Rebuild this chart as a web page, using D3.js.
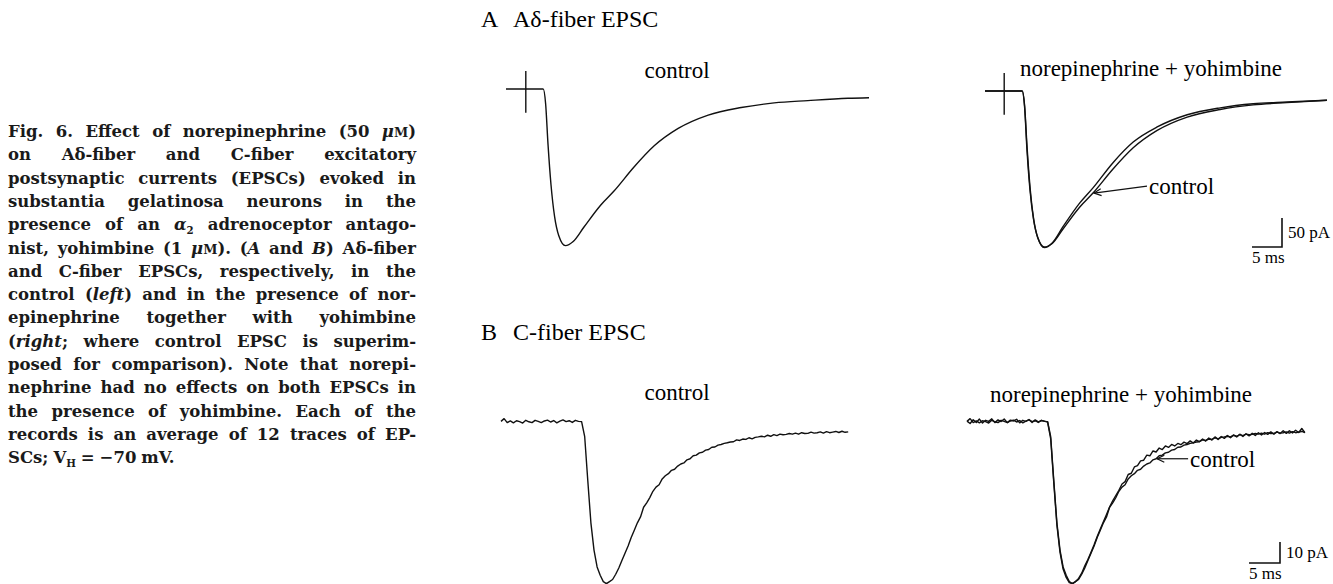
<!DOCTYPE html>
<html>
<head>
<meta charset="utf-8">
<script src="https://cdn.jsdelivr.net/npm/d3@7"></script>
<style>
  body { margin: 0; background: #fff; }
  svg { display: block; }
</style>
</head>
<body>
<script>
'use strict';

// ---- recorded traces: time in ms, current in pA (baseline = 0, inward = negative) ----

var tA = [0, 1, 2, 3, 4, 5, 6.2, 6.6, 7.0, 7.5, 8.1, 8.8, 9.9, 11.2, 13.0, 15.8, 18.0, 21.3, 24.7, 28.7, 33.7, 39.2, 44.7, 50.3, 57.0, 60.5];
var ctrlA = [0, 0, 0, 0, 0, 0, 0, -25, -95, -165, -220, -253, -270, -263, -238, -200, -176, -135, -98, -68, -45, -32, -24, -20, -16, -15];
var neA = [0, 0, 0, 0, 0, 0, 0, -28, -102, -171, -222, -253, -269, -262, -234, -193, -167, -124, -88, -62, -41, -29, -22, -19, -16, -15];

// C fiber EPSC, one sample every 0.5 ms
var dtB = 0.5;
var ctrlB = [
  0.3, 1.6, -0.3, 0.5, -0.4, 0.6, 0.2, -0.5, 0.8, 0.1, -0.3, 0.8, 0.3, -0.3, 0.5, 0.9, 0.0, 0.7, -0.4, 0.4, 1.0, 0.2, 0.6, -0.2, 0.8, 0.3,
  0.2, -7, -28, -48, -61, -69, -73, -76, -77, -76, -75, -72.5, -69.5, -66, -62.5, -59, -55, -51.5, -48, -45.2, -40.6, -38.5, -36, -33,
  -31, -29.9, -27.1, -25.6, -24.6, -23, -22.5, -21, -20, -19.5, -18, -17.5, -16.1, -15.8, -14.7, -14.4, -13.4, -13.1, -12.0, -11.9,
  -11.0, -10.7, -10.2, -9.9, -9.5, -9.4, -8.5, -8.8, -8.1, -8.3, -7.5, -8.0, -7.3, -7.1, -6.8, -7.1, -6.3, -6.8, -6.0, -6.5,
  -5.8, -6.1, -5.9, -5.5, -5.8, -5.3, -5.8, -5.1, -5.5, -5.4, -4.8, -5.3, -5.1, -4.7, -5.3, -4.6, -5.1, -4.8, -4.5, -5.0,
  -4.4, -4.9, -4.7
];
var neB = [
  0.4, -0.7, 1.1, -0.2, 1.4, -0.5, 0.8, 0.3, 1.5, -0.3, 1.0, 0.2, 1.4, -0.3, 0.9, 0.5, 1.3, -0.4, 0.8, 0.3, 1.2, -0.2, 1.0, 0.1, 0.7, 0.4,
  0.0, -8, -29, -49, -62, -70, -74, -76.5, -77, -76, -74.5, -72, -68.5, -65.5, -62, -58.5, -54.5, -51, -47.5, -44, -40.5, -37.5, -35, -32.5,
  -29.5, -28.4, -25, -24.4, -21.4, -20.8, -18.5, -18.2, -15.8, -16.1, -13.8, -14.3, -12.4, -13.1, -11.4, -12.1, -10.7, -11.4, -10.2, -10.8,
  -9.6, -10.3, -9.0, -10.0, -8.6, -9.3, -8.1, -9.1, -7.6, -8.6, -7.1, -8.3, -6.9, -7.8, -6.4, -7.5, -6.2, -7.1, -5.8, -6.9,
  -5.6, -6.6, -5.4, -6.4, -5.1, -6.2, -5.0, -5.9, -4.7, -5.8, -4.6, -5.5, -4.2, -5.4, -4.2, -5.2, -3.9, -5.0, -3.1, -5.1
];

// stimulus artifact (A traces): time in each panel, and its top / bottom in pA
var artifactT = [3.3, 3.2];
var artifactPA = [31, -41];

// calibration bars [ms, pA]
var scaleBarA = [5, 50];
var scaleBarB = [5, 10];

var panelTitles = [['A', 'A\u03b4-fiber EPSC'], ['B', 'C-fiber EPSC']];
var traceLabels = ['control', 'norepinephrine + yohimbine'];

// caption, line by line as printed; a word is a string or a list of [text, style] pieces
var captionLines = [
  ['Fig.', '6.', 'Effect', 'of', 'norepinephrine', '(50', [['\u03bc', 'i'], ['M', 'sc'], [')', '']]],
  ['on', 'A\u03b4-fiber', 'and', 'C-fiber', 'excitatory'],
  ['postsynaptic', 'currents', '(EPSCs)', 'evoked', 'in'],
  ['substantia', 'gelatinosa', 'neurons', 'in', 'the'],
  ['presence', 'of', 'an', [['\u03b1', 'i'], ['2', 'sub']], 'adrenoceptor', 'antago-'],
  ['nist,', 'yohimbine', '(1', [['\u03bc', 'i'], ['M', 'sc'], [').', '']], [['(', ''], ['A', 'i']], 'and', [['B', 'i'], [')', '']], 'A\u03b4-fiber'],
  ['and', 'C-fiber', 'EPSCs,', 'respectively,', 'in', 'the'],
  ['control', [['(', ''], ['left', 'i'], [')', '']], 'and', 'in', 'the', 'presence', 'of', 'nor-'],
  ['epinephrine', 'together', 'with', 'yohimbine'],
  [[['(', ''], ['right', 'i'], [';', '']], 'where', 'control', 'EPSC', 'is', 'superim-'],
  ['posed', 'for', 'comparison).', 'Note', 'that', 'norepi-'],
  ['nephrine', 'had', 'no', 'effects', 'on', 'both', 'EPSCs', 'in'],
  ['the', 'presence', 'of', 'yohimbine.', 'Each', 'of', 'the'],
  ['records', 'is', 'an', 'average', 'of', '12', 'traces', 'of', 'EP-'],
  ['SCs;', [['V', ''], ['H', 'sub']], '=', '\u221270', 'mV.']
];

// ---- layout ----
var W = 1333, H = 584;
var serif = 'Liberation Serif, Times New Roman, serif';

var svg = d3.select('body').append('svg')
  .attr('width', W)
  .attr('height', H)
  .style('background', '#fff');

// build [t, pA] pairs
var pairsA = function(vals) {
  return vals.map(function(v, i) { return [tA[i], v]; });
};
var pairsB = function(vals) {
  return vals.map(function(v, i) { return [i * dtB, v]; });
};

// each panel: origin of trace (x at t=0, y at 0 pA), pixels per ms / pA, traces
var panels = [
  { x0: 506, y0: 89, pxMs: 6, pxPA: 0.58, tMax: 60.5, curve: d3.curveMonotoneX,
    traces: [pairsA(ctrlA)], artifact: artifactT[0],
    label: traceLabels[0], labelX: 677, labelY: 78, anchor: 'middle' },
  { x0: 985, y0: 91, pxMs: 6, pxPA: 0.58, tMax: 57, curve: d3.curveMonotoneX,
    traces: [pairsA(ctrlA), pairsA(neA)], artifact: artifactT[1],
    label: traceLabels[1], labelX: 1020, labelY: 76, anchor: 'start',
    arrowIdx: 16, bar: scaleBarA, barX: 1282, barY: 247 },
  { x0: 501, y0: 422, pxMs: 6.2, pxPA: 2.1, tMax: 56, curve: d3.curveLinear,
    traces: [pairsB(ctrlB)],
    label: traceLabels[0], labelX: 677, labelY: 400, anchor: 'middle' },
  { x0: 967, y0: 422, pxMs: 6.2, pxPA: 2.1, tMax: 54.5, curve: d3.curveLinear,
    traces: [pairsB(ctrlB), pairsB(neB)],
    label: traceLabels[1], labelX: 990, labelY: 402, anchor: 'start',
    arrowIdx: 61, bar: scaleBarB, barX: 1280, barY: 563 }
];

// panel titles
panelTitles.forEach(function(pt, i) {
  var y = i === 0 ? 27 : 340;
  svg.append('text').attr('x', 481).attr('y', y)
    .attr('font-family', serif).attr('font-size', 24).text(pt[0]);
  svg.append('text').attr('x', 513).attr('y', y)
    .attr('font-family', serif).attr('font-size', 24).text(pt[1]);
});

panels.forEach(function(p) {
  var x = d3.scaleLinear().domain([0, p.tMax]).range([p.x0, p.x0 + p.tMax * p.pxMs]);
  var y = d3.scaleLinear().domain([0, -100]).range([p.y0, p.y0 + 100 * p.pxPA]);
  var g = svg.append('g');

  var line = d3.line()
    .x(function(d) { return x(d[0]); })
    .y(function(d) { return y(d[1]); })
    .curve(p.curve);

  p.traces.forEach(function(tr) {
    g.append('path')
      .datum(tr.filter(function(d) { return d[0] <= p.tMax; }))
      .attr('d', line)
      .attr('fill', 'none')
      .attr('stroke', '#111')
      .attr('stroke-width', 1.4)
      .attr('stroke-linejoin', 'round');
  });

  // stimulus artifact
  if (p.artifact !== undefined) {
    g.append('line')
      .attr('x1', x(p.artifact)).attr('x2', x(p.artifact))
      .attr('y1', y(artifactPA[0])).attr('y2', y(artifactPA[1]))
      .attr('stroke', '#111').attr('stroke-width', 1.4);
  }

  g.append('text')
    .attr('x', p.labelX).attr('y', p.labelY)
    .attr('text-anchor', p.anchor)
    .attr('font-family', serif).attr('font-size', 23)
    .text(p.label);

  // "control" pointer onto the superimposed control trace
  if (p.arrowIdx !== undefined) {
    var pt = p.traces[0][p.arrowIdx];
    var tx = x(pt[0]) + 1, ty = y(pt[1]);
    var sx = tx + 53, sy = ty - 7;
    if (p.pxPA > 1) { sx = tx + 31; sy = ty; }
    g.append('line')
      .attr('x1', sx).attr('y1', sy).attr('x2', tx).attr('y2', ty)
      .attr('stroke', '#111').attr('stroke-width', 1.2);
    var ang = Math.atan2(sy - ty, sx - tx);
    var head = [ang - 0.45, ang + 0.45].map(function(a) {
      return [tx + 8 * Math.cos(a), ty + 8 * Math.sin(a)];
    });
    g.append('path')
      .attr('d', 'M' + head[0] + 'L' + [tx, ty] + 'L' + head[1])
      .attr('fill', 'none').attr('stroke', '#111').attr('stroke-width', 1.2);
    g.append('text')
      .attr('x', sx + 2).attr('y', sy + 8)
      .attr('font-family', serif).attr('font-size', 23)
      .text(traceLabels[0]);
  }

  // calibration bars
  if (p.bar) {
    var bw = x(p.bar[0]) - x(0);
    var bh = y(-p.bar[1]) - y(0);
    g.append('path')
      .attr('d', 'M' + (p.barX - bw) + ',' + p.barY + 'H' + p.barX + 'V' + (p.barY - bh))
      .attr('fill', 'none').attr('stroke', '#111').attr('stroke-width', 1.6);
    g.append('text')
      .attr('x', p.barX + 6).attr('y', p.barY - bh / 2 + 5)
      .attr('font-family', serif).attr('font-size', 17)
      .text(p.bar[1] + ' pA');
    g.append('text')
      .attr('x', p.barX - bw).attr('y', p.barY + 16)
      .attr('font-family', serif).attr('font-size', 17)
      .text(p.bar[0] + ' ms');
  }
});

// ---- caption, justified ----
var capX = 8, capW = 408, capTop = 137, capLead = 23.3, capSize = 16.5;
var cap = svg.append('g')
  .attr('font-family', 'DejaVu Serif, serif')
  .attr('font-weight', 'bold')
  .attr('font-size', capSize)
  .attr('fill', '#1a1a1a');

captionLines.forEach(function(words, li) {
  var yy = capTop + li * capLead;
  var nodes = words.map(function(w) {
    var segs = typeof w === 'string' ? [[w, '']] : w;
    var t = cap.append('text').attr('y', yy);
    segs.forEach(function(s) {
      var ts = t.append('tspan').text(s[0]);
      if (s[1] === 'i') ts.attr('font-style', 'italic');
      if (s[1] === 'sc') ts.attr('font-size', capSize * 0.78);
      if (s[1] === 'sub') ts.attr('font-size', capSize * 0.62).attr('dy', 4);
    });
    return t;
  });
  var widths = nodes.map(function(t) { return t.node().getComputedTextLength(); });
  var total = d3.sum(widths);
  var last = li === captionLines.length - 1;
  var gap = last ? capSize * 0.3 : Math.max(2.5, (capW - total) / (nodes.length - 1));
  var cx = capX;
  nodes.forEach(function(t, i) {
    t.attr('x', cx);
    cx += widths[i] + gap;
  });
});
</script>
</body>
</html>
